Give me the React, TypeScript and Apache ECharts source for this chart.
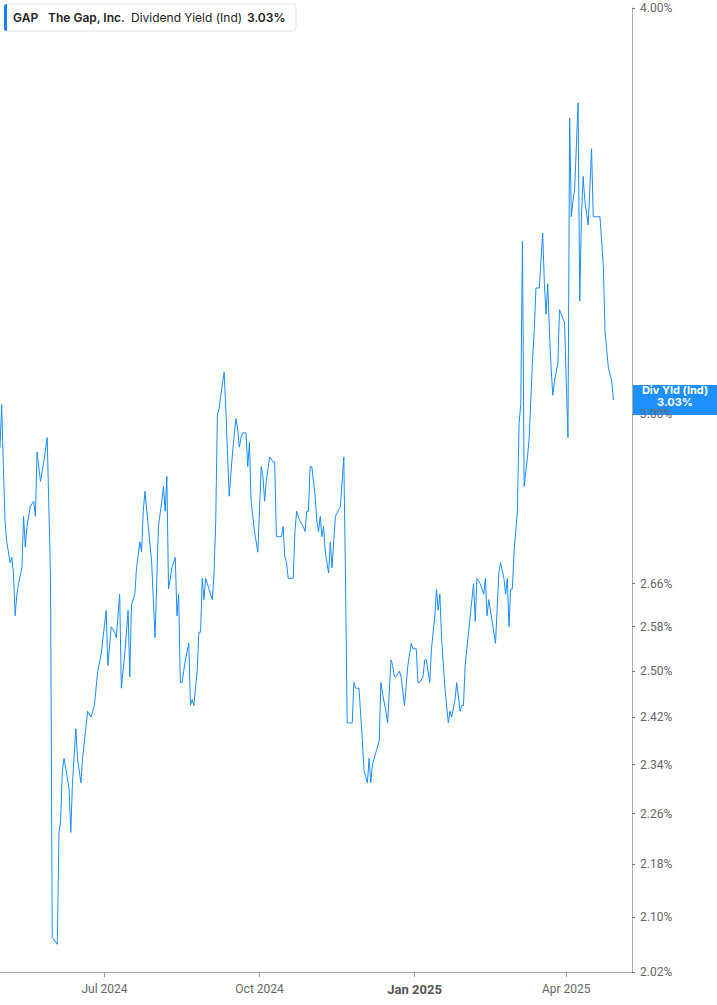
import React, { useEffect, useRef } from 'react';
import * as echarts from 'echarts';

// daily dividend yield (%)
const dates = [
  '2024-04-30', '2024-05-01', '2024-05-02', '2024-05-03', '2024-05-04', '2024-05-06', '2024-05-07', '2024-05-08', '2024-05-09', '2024-05-10', '2024-05-11', '2024-05-13', '2024-05-14', '2024-05-15', '2024-05-16', '2024-05-18', '2024-05-20', '2024-05-21', '2024-05-22', '2024-05-24', '2024-05-26', '2024-05-28', '2024-05-30', '2024-05-31',
  '2024-06-03', '2024-06-04', '2024-06-05', '2024-06-06', '2024-06-07', '2024-06-10', '2024-06-11', '2024-06-12', '2024-06-14', '2024-06-15', '2024-06-17', '2024-06-18', '2024-06-21', '2024-06-23', '2024-06-25', '2024-06-27', '2024-06-29',
  '2024-07-02', '2024-07-03', '2024-07-05', '2024-07-07', '2024-07-08', '2024-07-10', '2024-07-11', '2024-07-13', '2024-07-15', '2024-07-16', '2024-07-17', '2024-07-19', '2024-07-20', '2024-07-22', '2024-07-23', '2024-07-24', '2024-07-25', '2024-07-27', '2024-07-29', '2024-07-31',
  '2024-08-02', '2024-08-04', '2024-08-05', '2024-08-06', '2024-08-07', '2024-08-08', '2024-08-10', '2024-08-12', '2024-08-13', '2024-08-14', '2024-08-15', '2024-08-16', '2024-08-18', '2024-08-20', '2024-08-21', '2024-08-22', '2024-08-23', '2024-08-25', '2024-08-26', '2024-08-27', '2024-08-28', '2024-08-29', '2024-08-30',
  '2024-09-01', '2024-09-03', '2024-09-04', '2024-09-05', '2024-09-06', '2024-09-07', '2024-09-08', '2024-09-10', '2024-09-11', '2024-09-13', '2024-09-15', '2024-09-17', '2024-09-18', '2024-09-19', '2024-09-20', '2024-09-21', '2024-09-23', '2024-09-24', '2024-09-25', '2024-09-26', '2024-09-28', '2024-09-30',
  '2024-10-02', '2024-10-03', '2024-10-04', '2024-10-05', '2024-10-07', '2024-10-09', '2024-10-10', '2024-10-11', '2024-10-13', '2024-10-14', '2024-10-15', '2024-10-16', '2024-10-17', '2024-10-18', '2024-10-21', '2024-10-22', '2024-10-23', '2024-10-25', '2024-10-27', '2024-10-28', '2024-10-29', '2024-10-30', '2024-10-31',
  '2024-11-01', '2024-11-03', '2024-11-04', '2024-11-05', '2024-11-06', '2024-11-07', '2024-11-08', '2024-11-09', '2024-11-11', '2024-11-12', '2024-11-13', '2024-11-15', '2024-11-18', '2024-11-20', '2024-11-21', '2024-11-22', '2024-11-25', '2024-11-26', '2024-11-27', '2024-11-29',
  '2024-12-01', '2024-12-02', '2024-12-03', '2024-12-04', '2024-12-05', '2024-12-06', '2024-12-07', '2024-12-09', '2024-12-11', '2024-12-12', '2024-12-13', '2024-12-15', '2024-12-16', '2024-12-18', '2024-12-19', '2024-12-20', '2024-12-21', '2024-12-23', '2024-12-24', '2024-12-26', '2024-12-28', '2024-12-30', '2024-12-31',
  '2025-01-02', '2025-01-03', '2025-01-04', '2025-01-06', '2025-01-07', '2025-01-08', '2025-01-10', '2025-01-11', '2025-01-13', '2025-01-14', '2025-01-15', '2025-01-16', '2025-01-17', '2025-01-19', '2025-01-21', '2025-01-22', '2025-01-23', '2025-01-25', '2025-01-26', '2025-01-28', '2025-01-29', '2025-01-30', '2025-01-31',
  '2025-02-03', '2025-02-05', '2025-02-06', '2025-02-07', '2025-02-09', '2025-02-10', '2025-02-11', '2025-02-12', '2025-02-13', '2025-02-14', '2025-02-16', '2025-02-18', '2025-02-20', '2025-02-21', '2025-02-23', '2025-02-24', '2025-02-25', '2025-02-26', '2025-02-27', '2025-02-28',
  '2025-03-01', '2025-03-03', '2025-03-04', '2025-03-05', '2025-03-06', '2025-03-07', '2025-03-09', '2025-03-10', '2025-03-12', '2025-03-13', '2025-03-14', '2025-03-15', '2025-03-16', '2025-03-18', '2025-03-19', '2025-03-20', '2025-03-21', '2025-03-22', '2025-03-23', '2025-03-24', '2025-03-25', '2025-03-27', '2025-03-28', '2025-03-29', '2025-03-31',
  '2025-04-01', '2025-04-02', '2025-04-03', '2025-04-04', '2025-04-05', '2025-04-06', '2025-04-08', '2025-04-09', '2025-04-10', '2025-04-11', '2025-04-12', '2025-04-14', '2025-04-15', '2025-04-16', '2025-04-17', '2025-04-19', '2025-04-21', '2025-04-23', '2025-04-24', '2025-04-25', '2025-04-26', '2025-04-28', '2025-04-29',
];

const yields = [
  2.93, 3.02, 2.89, 2.78, 2.74, 2.70, 2.71, 2.68, 2.60, 2.64, 2.66, 2.69, 2.79, 2.73, 2.77, 2.81, 2.82, 2.79, 2.92, 2.86, 2.90, 2.95, 2.67, 2.07,
  2.06, 2.23, 2.25, 2.33, 2.35, 2.30, 2.23, 2.31, 2.40, 2.35, 2.31, 2.35, 2.43, 2.42, 2.44, 2.50, 2.53,
  2.61, 2.51, 2.58, 2.57, 2.56, 2.64, 2.47, 2.53, 2.61, 2.49, 2.62, 2.64, 2.69, 2.74, 2.72, 2.80, 2.84, 2.77, 2.70, 2.56,
  2.77, 2.82, 2.85, 2.80, 2.87, 2.65, 2.69, 2.71, 2.60, 2.64, 2.48, 2.48, 2.52, 2.55, 2.44, 2.45, 2.44, 2.50, 2.57, 2.57, 2.67, 2.63, 2.67,
  2.65, 2.63, 2.68, 2.78, 3.00, 3.01, 3.04, 3.09, 3.01, 2.83, 2.92, 2.99, 2.97, 2.93, 2.95, 2.96, 2.96, 2.89, 2.94, 2.82, 2.76, 2.72,
  2.89, 2.87, 2.82, 2.86, 2.91, 2.90, 2.90, 2.75, 2.75, 2.75, 2.77, 2.71, 2.70, 2.67, 2.67, 2.76, 2.80, 2.78, 2.77, 2.76, 2.80, 2.80, 2.89,
  2.89, 2.83, 2.78, 2.76, 2.79, 2.75, 2.77, 2.72, 2.68, 2.74, 2.69, 2.79, 2.81, 2.91, 2.67, 2.41, 2.41, 2.48, 2.47, 2.47,
  2.38, 2.33, 2.32, 2.31, 2.35, 2.31, 2.34, 2.36, 2.38, 2.48, 2.46, 2.43, 2.41, 2.52, 2.51, 2.49, 2.49, 2.50, 2.49, 2.44, 2.51, 2.55, 2.54,
  2.54, 2.48, 2.48, 2.49, 2.52, 2.52, 2.48, 2.54, 2.60, 2.65, 2.61, 2.64, 2.56, 2.47, 2.41, 2.43, 2.42, 2.45, 2.48, 2.43, 2.44, 2.44, 2.51,
  2.60, 2.66, 2.59, 2.67, 2.66, 2.65, 2.64, 2.67, 2.60, 2.63, 2.59, 2.55, 2.68, 2.70, 2.67, 2.64, 2.67, 2.58, 2.65, 2.65,
  2.72, 2.80, 2.98, 3.02, 3.39, 2.85, 2.91, 2.95, 3.12, 3.18, 3.28, 3.28, 3.28, 3.41, 3.29, 3.22, 3.29, 3.18, 3.10, 3.04, 3.07, 3.11, 3.23, 3.22, 3.20,
  3.07, 2.95, 3.70, 3.45, 3.49, 3.52, 3.74, 3.25, 3.45, 3.55, 3.49, 3.43, 3.52, 3.62, 3.45, 3.45, 3.45, 3.33, 3.18, 3.14, 3.10, 3.07, 3.03,
];

const yTicks = [2.02, 2.1, 2.18, 2.26, 2.34, 2.42, 2.5, 2.58, 2.66, 3.0, 4.0];
const monthNames = ['Jan', 'Feb', 'Mar', 'Apr', 'May', 'Jun', 'Jul', 'Aug', 'Sep', 'Oct', 'Nov', 'Dec'];

const ticker = 'GAP';
const company = 'The Gap, Inc.';
const metric = 'Dividend Yield (Ind)';
const tagName = 'Div Yld (Ind)';

const BLUE = '#1a8cff';
const FONT = 'Roboto, "Liberation Sans", sans-serif';
const DAY = 24 * 3600 * 1000;

export default function App() {
  const chartRef = useRef<HTMLDivElement>(null);

  useEffect(() => {
    if (!chartRef.current) return;
    const chart = echarts.init(chartRef.current, null, { renderer: 'svg' });
    const last = yields[yields.length - 1];

    // log scale done by hand: plot ln(yield) on a value axis
    chart.setOption({
      animation: false,
      grid: { left: 0, right: 85, top: 8, bottom: 33 },
      xAxis: {
        type: 'time',
        min: '2024-04-30',
        max: '2025-05-10',
        splitNumber: 4,
        minInterval: 85 * DAY,
        maxInterval: 95 * DAY,
        axisLine: { lineStyle: { color: '#aaa', width: 1 } },
        axisTick: { show: true, length: 5, lineStyle: { color: '#999' } },
        splitLine: { show: false },
        axisLabel: {
          showMinLabel: false,
          showMaxLabel: false,
          margin: 11,
          color: '#666',
          fontSize: 12,
          fontFamily: FONT,
          formatter: (v: number) => {
            const d = new Date(v);
            const s = monthNames[d.getMonth()] + ' ' + d.getFullYear();
            return d.getMonth() === 0 ? '{b|' + s + '}' : s;
          },
          rich: { b: { fontWeight: 'bold', fontSize: 13, color: '#555', fontFamily: FONT } },
        },
      },
      yAxis: {
        type: 'value',
        position: 'right',
        min: Math.log(2.02),
        max: Math.log(4.0),
        axisLine: { show: true, lineStyle: { color: '#aaa', width: 1 } },
        axisTick: { show: true, length: 3, customValues: yTicks.map(Math.log), lineStyle: { color: '#777' } },
        splitLine: { show: false },
        axisLabel: {
          customValues: yTicks.map(Math.log),
          margin: 8,
          color: '#666',
          fontSize: 12,
          lineHeight: 9,
          fontFamily: FONT,
          formatter: (v: number) => Math.exp(v).toFixed(2) + '%',
        },
      },
      series: [
        {
          type: 'line',
          data: dates.map((d, i) => [d, Math.log(yields[i])]),
          showSymbol: false,
          lineStyle: { width: 1, color: BLUE },
          itemStyle: { color: BLUE },
        },
      ],
    });

    const yPix = chart.convertToPixel({ yAxisIndex: 0 }, Math.log(last)) as number;
    const textFont = 'Inter, Roboto, sans-serif';

    chart.setOption({
      graphic: [
        {
          type: 'group',
          z: 100,
          children: [
            { type: 'rect', shape: { x: 4, y: 4, width: 292, height: 27, r: 3 }, style: { fill: '#fff', stroke: '#e4e4e4', lineWidth: 1 } },
            { type: 'rect', shape: { x: 4, y: 4, width: 3, height: 27, r: [3, 0, 0, 3] }, style: { fill: '#1a7cff' } },
            { type: 'text', x: 13, y: 17.5, style: { text: ticker, fontFamily: textFont, fontSize: 12, fontWeight: 600, fill: '#222', verticalAlign: 'middle' } },
            { type: 'text', x: 48, y: 17.5, style: { text: company, fontFamily: textFont, fontSize: 12, fontWeight: 600, fill: '#222', verticalAlign: 'middle' } },
            { type: 'text', x: 131, y: 17.5, style: { text: metric, fontFamily: textFont, fontSize: 12, fill: '#222', verticalAlign: 'middle' } },
            { type: 'text', x: 247, y: 17.5, style: { text: last.toFixed(2) + '%', fontFamily: textFont, fontSize: 12, fontWeight: 600, fill: '#222', verticalAlign: 'middle' } },
          ],
        },
        {
          type: 'group',
          z: 100,
          children: [
            { type: 'rect', shape: { x: 633, y: yPix - 15, width: 84, height: 30 }, style: { fill: '#1e90ff' } },
            {
              type: 'text',
              x: 675,
              y: yPix - 3.5,
              style: {
                text: tagName + '\n' + last.toFixed(2) + '%',
                fontFamily: textFont,
                fontSize: 11,
                lineHeight: 12,
                fontWeight: 'bold',
                fill: '#fff',
                align: 'center',
                verticalAlign: 'middle',
              },
            },
          ],
        },
      ],
    });

    return () => {
      chart.dispose();
    };
  }, []);

  return <div ref={chartRef} style={{ position: 'absolute', left: 0, top: 0, width: 717, height: 1005 }}></div>;
}
